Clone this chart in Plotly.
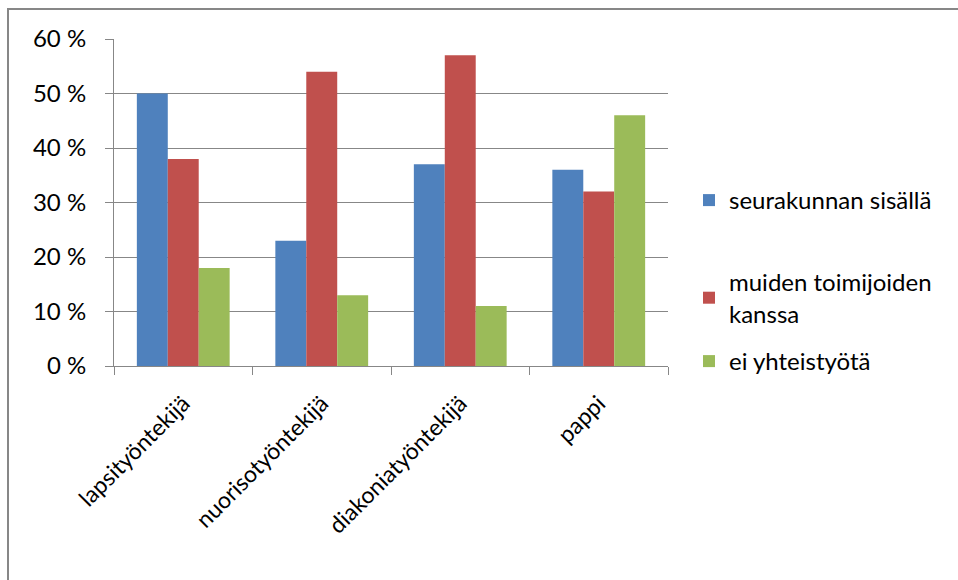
import plotly.graph_objects as go

categories = ["lapsityöntekijä", "nuorisotyöntekijä", "diakoniatyöntekijä", "pappi"]
series_names = ["seurakunnan sisällä", "muiden toimijoiden<br>kanssa", "ei yhteistyötä"]
sisalla = [50, 23, 37, 36]
muiden = [38, 54, 57, 32]
ei = [18, 13, 11, 46]
y_ticks = [0, 10, 20, 30, 40, 50, 60]
y_tick_labels = ["0 %", "10 %", "20 %", "30 %", "40 %", "50 %", "60 %"]
colors = ["#4F81BD", "#C0504D", "#9BBB59"]

W, H = 958, 580
L, R, T, B = 114, 290, 39, 214
pw, ph = W - L - R, H - T - B

FONT = "Lato"
fs = 24

fig = go.Figure()
legend_ids = ["legend", "legend2", "legend3"]
for vals, name, col, lg in zip([sisalla, muiden, ei], series_names, colors, legend_ids):
    fig.add_trace(go.Bar(x=categories, y=vals, name=name, marker=dict(color=col, line=dict(width=0)),
                         legend=lg, showlegend=True))

def px_to_paper(xp, yp):
    return (xp - L) / pw, 1 - (yp - T) / ph

leg_pos = [(689, 178), (689, 260), (689, 339)]
leg_layout = {}
for lg, (xp, yp) in zip(legend_ids, leg_pos):
    xx, yy = px_to_paper(xp, yp)
    leg_layout[lg] = dict(x=xx, y=yy, xanchor="left", yanchor="top", bgcolor="rgba(0,0,0,0)",
                          font=dict(family=FONT, size=fs, color="#000000"), itemwidth=30,
                          visible=True)

fx0, fy0 = px_to_paper(8, 9)
fx1, fy1 = px_to_paper(990, 620)

fig.update_layout(
    width=W, height=H,
    margin=dict(l=L, r=R, t=T, b=B),
    paper_bgcolor="white", plot_bgcolor="white",
    barmode="group", bargap=0.33, bargroupgap=0,
    showlegend=True,
    font=dict(family=FONT, size=fs, color="#000000"),
    shapes=[dict(type="rect", xref="paper", yref="paper", x0=fx0, y0=fy1, x1=fx1, y1=fy0,
                 line=dict(color="#878787", width=2), layer="below")],
    **leg_layout,
)
fig.update_yaxes(range=[0, 60], tickmode="array", tickvals=y_ticks, ticktext=y_tick_labels,
                 showgrid=True, gridcolor="#878787",
                 gridwidth=1, showline=True, linecolor="#878787", linewidth=1, ticks="outside",
                 ticklen=8, tickcolor="#878787", zeroline=False, ticklabelstandoff=14,
                 tickfont=dict(family=FONT, size=fs), automargin=False)
fig.update_xaxes(showline=True, linecolor="#878787", linewidth=1, ticks="outside", ticklen=8,
                 tickcolor="#878787", tickson="boundaries", tickangle=-45, showgrid=False,
                 ticklabelstandoff=14, automargin=False,
                 tickfont=dict(family=FONT, size=23), mirror=False)

fig.write_html("out.html", config={"displayModeBar": False},
               post_script="document.body.style.margin='0';")
